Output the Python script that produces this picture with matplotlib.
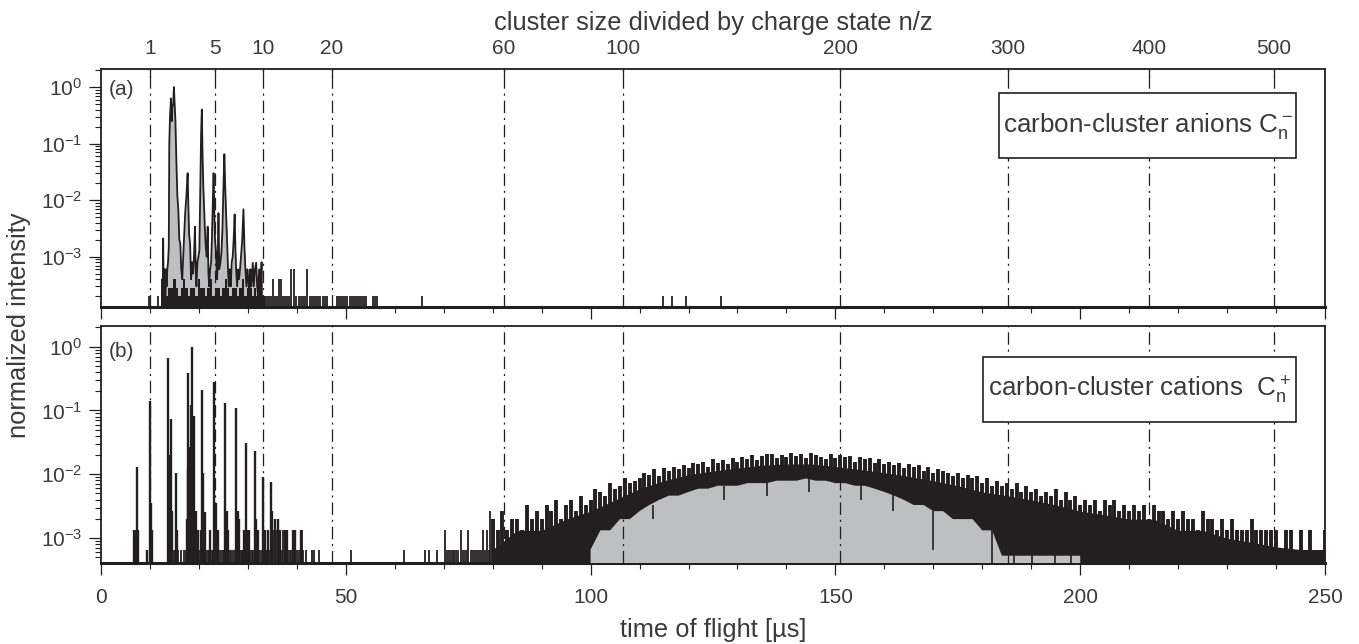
import numpy as np
import matplotlib.pyplot as plt
from matplotlib.patches import Rectangle
from matplotlib.ticker import FixedLocator, LogLocator, MultipleLocator, FuncFormatter, NullFormatter

plt.rcParams['font.family'] = ['Liberation Sans', 'DejaVu Sans']
plt.rcParams['mathtext.default'] = 'regular'
plt.rcParams['lines.scale_dashes'] = False
plt.rcParams['axes.unicode_minus'] = False

ink = '#231f20'
txt = '#3a3a3a'
grey = '#bebfc1'

# top axis: cluster size n/z and the time of flight (us) where it lands
nz_labels = ['1', '5', '10', '20', '60', '100', '200', '300', '400', '500']
nz_tof = [10.0, 23.3, 33.1, 47.2, 82.3, 106.6, 151.0, 185.2, 214.0, 239.5]

# (a) anions: spectrum trace around the small clusters (normalized)
anion_t = [
    12.3, 12.5, 12.6, 12.7, 12.8, 12.95, 13.1, 13.25, 13.4, 13.55,
    13.7, 13.85, 13.95, 14.1, 14.3, 14.45, 14.6, 14.75, 14.9, 15.05,
    15.2, 15.4, 15.6, 15.8, 16.0, 16.2, 16.4, 16.6, 16.8, 17.0,
    17.2, 17.45, 17.7, 17.85, 18.0, 18.2, 18.4, 18.6, 18.8, 19.0,
    19.2, 19.35, 19.5, 19.7, 19.9, 20.1, 20.3, 20.45, 20.6, 20.75,
    20.9, 21.05, 21.2, 21.4, 21.6, 21.8, 21.95, 22.1, 22.3, 22.5,
    22.65, 22.85, 23.0, 23.15, 23.3, 23.5, 23.7, 23.85, 24.0, 24.15,
    24.4, 24.6, 24.8, 25.0, 25.2, 25.35, 25.6, 25.8, 25.95, 26.1,
    26.3, 26.5, 26.7, 26.9, 27.1, 27.3, 27.45, 27.6, 27.8, 28.0,
    28.2, 28.4, 28.6, 28.85, 29.1, 29.3, 29.5, 29.7, 29.9, 30.1,
    30.3, 30.5, 30.7, 31.0, 31.2, 31.45, 31.7, 31.9, 32.1, 32.3,
    32.6, 32.8, 33.0]
anion_y = [
    0, 4e-4, 0, 2.1e-3, 3e-4, 6e-4, 0, 6e-4, 3e-4, 6e-4,
    8e-4, 1.5e-3, 0.1, 0.3, 0.63, 0.25, 0.45, 0.5, 1.0, 0.5,
    0.26, 0.05, 0.012, 6.7e-3, 2e-3, 1.7e-3, 6e-4, 4e-4, 1e-3, 2.5e-3,
    6e-3, 0.012, 0.03, 8e-3, 2.5e-3, 1.7e-3, 4e-4, 8e-4, 5e-4, 1e-3,
    3.4e-3, 6e-4, 3e-4, 8e-4, 1e-3, 1.3e-3, 0.02, 0.15, 0.4, 0.06,
    0.017, 8e-3, 3.4e-3, 1.5e-3, 1e-3, 3.4e-3, 5e-4, 3e-4, 6e-4, 8e-4,
    2e-3, 0.01, 0.03, 6e-3, 2e-3, 1.2e-3, 4e-4, 8e-4, 5.9e-3, 6e-4,
    8e-4, 1.2e-3, 3e-3, 0.015, 0.065, 0.02, 4.5e-3, 1.5e-3, 6e-4, 3e-4,
    6e-4, 3e-4, 8e-4, 1e-3, 2e-3, 5.6e-3, 1.5e-3, 6e-4, 3e-4, 6e-4,
    4e-4, 6e-4, 1e-3, 2e-3, 6.9e-3, 1.5e-3, 6e-4, 3e-4, 6e-4, 4e-4,
    2e-4, 6e-4, 3e-4, 7.8e-4, 3e-4, 6e-4, 7.8e-4, 3e-4, 2e-4, 6e-4,
    2e-4, 8e-4, 0]

# (a) counts (1 count ~ 2e-4): noise floor under the peaks, then single counts
anion_count = 2e-4
a_noise_t = np.arange(12.5, 34.0, 0.5)
a_noise_n = [1, 1.4, 1, 1.4, 1.4, 2, 1.4, 1, 1.4, 2,
             1.4, 1, 1.4, 1.4, 1, 2, 1.4, 1.4, 1, 1.4,
             2, 1, 1.4, 1.4, 1, 1.4, 2, 1.4, 1, 1.4,
             1.4, 1, 1.4, 2, 1, 1.4, 1.4, 1, 1.4, 1,
             1.4, 1, 1]
a_blip_t = [9.8, 11.7, 33.4, 33.9, 34.3, 34.8, 35.2, 35.5, 35.9, 36.4,
            36.8, 37.2, 37.6, 38.0, 38.5, 38.9, 39.5, 39.9, 40.4, 40.8,
            41.3, 41.7, 42.1, 42.6, 43.0, 43.5, 43.9, 44.3, 44.8, 45.3,
            45.7, 46.1, 48.2, 48.6, 49.0, 49.5, 49.9, 50.3, 50.8, 51.2,
            51.6, 52.1, 52.5, 52.9, 53.4, 53.8, 54.2, 55.5, 55.9, 56.4,
            65.5, 114.7, 116.6, 119.5, 126.6]
a_blip_n = [1, 1, 1, 1, 1, 1, 2, 1, 1, 2,
            2, 1, 1, 1, 1, 3, 3, 1, 1, 1,
            1, 1, 3, 1, 1, 1, 1, 1, 1, 1,
            1, 1, 1, 1, 1, 1, 1, 1, 1, 1,
            1, 1, 1, 1, 1, 1, 1, 1, 1, 1,
            1, 1, 1, 1, 1]

# (b) cations: sharp peaks of the small clusters (normalized)
c_peak_t = [6.8, 7.05, 7.3, 7.6, 9.5, 10.0, 10.3, 10.5, 13.75, 13.95,
            14.3, 14.6, 15.25, 15.5, 17.5, 17.7, 17.85, 18.05, 18.3, 18.5,
            18.7, 18.9, 19.2, 19.5, 19.9, 20.35, 20.6, 20.9, 21.2, 22.3,
            23.1, 23.4, 23.8, 25.4, 25.7, 26.0, 27.5, 27.9, 28.2, 29.2,
            29.55, 29.9, 30.2, 31.45, 31.7, 32.0, 33.0, 33.4, 34.2, 34.65,
            35.0, 35.5, 36.1, 36.6, 37.6, 37.9, 39.2, 39.7, 40.8]
c_peak_y = [1.35e-3, 1.35e-3, 0.013, 1.35e-3, 6.6e-4, 0.14, 3.5e-3, 1.35e-3, 0.66, 0.02,
            0.073, 2.7e-3, 0.0104, 1.35e-3, 2e-3, 0.39, 0.012, 0.027, 0.12, 1.0,
            0.03, 0.082, 2.6e-3, 2.7e-3, 1.35e-3, 1.35e-3, 0.21, 0.0104, 2.6e-3, 1.35e-3,
            0.28, 3.5e-3, 1.35e-3, 0.13, 2.7e-3, 1.35e-3, 0.11, 2.7e-3, 2e-3, 1.35e-3,
            0.031, 1.35e-3, 1.35e-3, 0.023, 2e-3, 1.35e-3, 0.009, 1.35e-3, 1.35e-3, 0.0075,
            2.7e-3, 2e-3, 2e-3, 1.35e-3, 1.35e-3, 1.35e-3, 1.35e-3, 1.35e-3, 1.35e-3]

# (b) single counts (1 count ~ 6.6e-4)
cation_count = 6.6e-4
c_blip_t = [13.9, 14.2, 14.9, 15.1, 15.8, 16.3, 17.0, 17.3, 18.1, 18.8,
            19.0, 19.7, 20.1, 20.8, 21.5, 21.8, 22.1, 22.6, 22.9, 23.6,
            24.1, 24.5, 24.9, 25.2, 26.3, 26.6, 27.0, 27.3, 28.5, 28.8,
            29.0, 30.5, 30.8, 31.1, 32.3, 32.6, 33.7, 34.0, 34.4, 35.3,
            35.8, 36.3, 36.9, 37.2, 38.2, 38.6, 38.9, 40.1, 40.4, 41.0,
            41.3, 41.9, 43.1, 43.6, 44.5, 51.1, 61.9, 66.2, 67.0, 68.7,
            70.2, 70.6, 71.0, 71.4, 71.8, 72.2, 72.6, 73.0, 73.5, 73.9,
            74.3, 74.8, 75.0, 75.5, 75.9, 76.3, 76.8, 77.2, 77.6, 78.1,
            78.5, 78.9, 79.2, 79.5]
c_blip_n = [1, 1, 1, 1, 1, 1, 1, 1, 1, 1,
            1, 1, 1, 1, 1, 1, 1, 1, 1, 1,
            1, 1, 1, 1, 1, 1, 1, 1, 1, 1,
            1, 1, 1, 1, 1, 1, 1, 1, 1, 2,
            2, 2, 1, 2, 1, 1, 1, 1, 1, 2,
            1, 1, 1, 1, 1, 1, 1, 1, 1, 1,
            2, 1, 1, 1, 1, 1, 1, 1, 2, 1,
            1, 1, 2, 1, 1, 1, 1, 1, 1, 2,
            1, 2, 1, 4]

# (b) broad distribution of large clusters: noise spikes, counts per 1 us bin
hump_t = np.arange(80, 251)
hump_top = [3, 2, 4, 2, 3, 3, 2, 5, 3, 4,
            3, 5, 4, 6, 3, 5, 6, 4, 7, 5,
            6, 9, 8, 7, 11, 9, 10, 13, 11, 12,
            13, 16, 15, 18, 14, 19, 17, 20, 18, 21,
            19, 23, 22, 24, 20, 26, 23, 25, 22, 27,
            24, 28, 26, 30, 25, 29, 31, 32, 27, 30,
            28, 33, 29, 31, 27, 33, 30, 28, 26, 32,
            27, 30, 28, 29, 24, 28, 26, 27, 23, 26,
            22, 24, 21, 23, 19, 22, 20, 21, 17, 20,
            16, 18, 17, 16, 14, 16, 13, 15, 13, 14,
            11, 13, 10, 12, 10, 11, 9, 11, 8, 10,
            8, 9, 7, 8, 7, 9, 6, 8, 6, 7,
            5, 6, 5, 6, 4, 6, 5, 6, 4, 5,
            4, 5, 4, 5, 3, 5, 4, 4, 3, 4,
            3, 4, 3, 3, 2, 4, 3, 3, 2, 3,
            2, 3, 2, 2, 2, 3, 2, 2, 2, 2,
            2, 1, 2, 2, 1, 2, 1, 2, 1, 1, 2]
# solid core of the noise band, counts every 5 us
core_t = np.arange(80, 251, 5)
core_n = [1, 2, 2, 3, 4, 6, 9, 12, 15, 17,
          19, 21, 22, 22, 20, 18, 16, 14, 12, 10,
          8, 7, 6, 5, 4, 3.5, 3, 3, 2, 2,
          1.5, 1.3, 1.1, 1, 1]
# lower edge of the noise (grey area), counts every 2 us
grey_t = np.arange(100, 203, 2)
grey_n = [1, 2, 2, 3, 3, 4, 5, 6, 7, 7,
          8, 9, 9, 10, 10, 10, 11, 11, 11, 12,
          12, 12, 13, 12, 12, 11, 11, 10, 10, 9,
          8, 7, 6, 5, 5, 4, 4, 3, 3, 3,
          2, 2, 0.8, 0.8, 0.8, 0.8, 0.8, 0.8, 0.8, 0.8,
          0.8, 0]
# downward noise spikes cutting into the grey
dip_t = [112.8, 127.3, 136.1, 144.6, 155.2, 161.8, 169.9, 182.0, 186.5, 190.2, 194.8, 198.1]
dip_lo = [3, 6, 7, 8, 6, 4, 1, 0.01, 0.01, 0.01, 0.01, 0.01]
dip_hi = [5, 10, 11, 13, 11, 8, 4, 2, 1, 1, 1, 1]

floor = 1e-5

fig = plt.figure(figsize=(13.59, 6.44), dpi=100)
ax1 = fig.add_axes([0.0743, 0.5238, 0.9007, 0.3686])
ax2 = fig.add_axes([0.0743, 0.1262, 0.9007, 0.3676])

# panel (a)
ay = np.clip(np.array(anion_y), floor, None)
ax1.fill_between(anion_t, floor, ay, color=grey, lw=0, zorder=1)
ax1.fill_between(a_noise_t, floor, np.array(a_noise_n) * anion_count, step='mid',
                 color=ink, lw=0, zorder=1.5)
ax1.plot(anion_t, ay, color=ink, lw=1.3, zorder=2)
ax1.vlines(a_blip_t, floor, np.array(a_blip_n) * anion_count, color=ink, lw=1.3, zorder=2)

# panel (b)
ax2.fill_between(core_t, floor, np.array(core_n) * cation_count, color=ink, lw=0, zorder=2)
ax2.vlines(hump_t, floor, np.array(hump_top) * cation_count, color=ink, lw=2.8, zorder=2)
ax2.fill_between(grey_t, floor, np.array(grey_n) * cation_count, color=grey, lw=0, zorder=3)
ax2.vlines(dip_t, np.array(dip_lo) * cation_count, np.array(dip_hi) * cation_count,
           color=ink, lw=1.2, zorder=3.5)
ax2.vlines(c_peak_t, floor, c_peak_y, color=ink, lw=1.7, zorder=2)
ax2.vlines(c_blip_t, floor, np.array(c_blip_n) * cation_count, color=ink, lw=1.3, zorder=2)

ylims = [(1.31e-4, 2.06), (4.1e-4, 2.11)]
for ax, yl in zip([ax1, ax2], ylims):
    ax.set_yscale('log')
    ax.set_ylim(*yl)
    ax.set_xlim(0, 250)
    for t in nz_tof:
        ax.axvline(t, color=ink, lw=0.9, ls=(0, (9, 3.5, 1.5, 3.5)), zorder=4)
    ax.yaxis.set_major_locator(FixedLocator([1e-3, 1e-2, 1e-1, 1.0]))
    ax.yaxis.set_minor_locator(LogLocator(subs=np.arange(2, 10)))
    ax.yaxis.set_minor_formatter(NullFormatter())
    ax.yaxis.set_major_formatter(FuncFormatter(lambda v, p: r'$10^{%d}$' % round(np.log10(v))))
    ax.xaxis.set_major_locator(MultipleLocator(50))
    ax.xaxis.set_minor_locator(MultipleLocator(10))
    ax.tick_params(which='major', direction='out', length=8.5, width=0.9, color=ink,
                   labelcolor=txt, labelsize=15, pad=5)
    ax.tick_params(which='minor', direction='out', length=4.3, width=0.8, color=ink)
    ax.tick_params(axis='x', which='major', pad=10)
    for s in ax.spines.values():
        s.set_linewidth(1.3)
        s.set_color(ink)
    ax.spines['bottom'].set_linewidth(2.2)

ax1.tick_params(axis='x', labelbottom=False)

ax_top = ax1.twiny()
ax_top.set_xlim(0, 250)
ax_top.set_xticks(nz_tof)
ax_top.set_xticklabels(nz_labels)
ax_top.tick_params(direction='in', length=6, width=0.9, color=ink, labelcolor=txt,
                   labelsize=15, pad=8)
for s in ax_top.spines.values():
    s.set_visible(False)

ax1.text(0.0065, 0.913, '(a)', transform=ax1.transAxes, ha='left', va='center',
         fontsize=15, color=txt)
ax2.text(0.0065, 0.891, '(b)', transform=ax2.transAxes, ha='left', va='center',
         fontsize=15, color=txt)

# label boxes
boxes = [(ax1, 0.7337, 0.625, 0.9763, 0.899, r'carbon-cluster anions $C_n^-$'),
         (ax2, 0.7208, 0.5932, 0.9763, 0.8678, r'carbon-cluster cations  $C_n^+$')]
for ax, x0, y0, x1, y1, label in boxes:
    ax.add_patch(Rectangle((x0, y0), x1 - x0, y1 - y0, transform=ax.transAxes,
                           facecolor='white', edgecolor=ink, lw=1.2, zorder=5))
    ax.text((x0 + x1) / 2, (y0 + y1) / 2, label, transform=ax.transAxes,
            ha='center', va='center', fontsize=18.7, color=txt, zorder=6)

fig.text(0.5246, 1 - 23 / 644, 'cluster size divided by charge state n/z',
         ha='center', va='center', fontsize=18.4, color=txt)
fig.text(0.5246, 1 - 630 / 644, 'time of flight [µs]',
         ha='center', va='center', fontsize=18.4, color=txt)
fig.text(19 / 1359, 1 - 325 / 644, 'normalized intensity', rotation=90,
         ha='center', va='center', fontsize=18.4, color=txt)

fig.savefig('out.png', dpi=100)
